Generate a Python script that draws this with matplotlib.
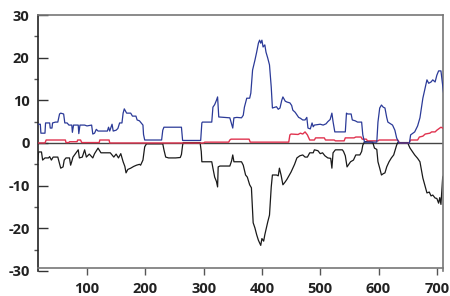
import matplotlib
matplotlib.use("Agg")
import matplotlib.pyplot as plt
from matplotlib.ticker import MultipleLocator

plt.rcParams['font.family'] = ['Open Sans', 'DejaVu Sans']
plt.rcParams['font.weight'] = 'bold'
plt.rcParams['axes.unicode_minus'] = False

# blue profile (positive side)
blue_x = [16, 20, 21, 28, 29, 36, 37, 40, 41, 46, 50, 53, 55, 60, 62, 66, 69, 74, 75, 77,
          85, 86, 88, 96, 100, 108, 110, 113, 116, 119, 135, 137, 139, 143, 145, 150, 153,
          156, 160, 162, 164, 168, 175, 178, 184, 186, 190, 193, 196, 197, 199, 228, 230,
          232, 262, 264, 295, 297, 298, 314, 316, 319, 322, 324, 326, 345, 348, 350, 352,
          357, 365, 368, 370, 372, 374, 379, 381, 384, 386, 388, 391, 394, 396, 398, 400,
          402, 405, 407, 410, 413, 416, 418, 425, 428, 431, 434, 436, 440, 443, 448, 451,
          453, 457, 460, 463, 466, 470, 474, 477, 479, 483, 486, 488, 490, 500, 505, 510,
          513, 517, 520, 522, 525, 543, 545, 547, 553, 555, 560, 564, 571, 573, 576, 597,
          599, 602, 605, 608, 611, 614, 616, 624, 628, 631, 635, 653, 655, 662, 667, 671,
          676, 680, 683, 686, 690, 693, 697, 700, 703, 707, 710, 712]
blue_y = [4.4, 4.4, 2.3, 2.3, 4.7, 4.7, 3.5, 3.5, 4.7, 4.9, 4.9, 6.8, 7.0, 6.8, 4.7, 4.7, 4.2, 4.2, 2.5, 4.2,
          4.2, 2.2, 4.2, 4.2, 4.0, 4.2, 2.1, 2.3, 3.2, 2.8, 2.8, 3.7, 2.8, 4.4, 2.8, 3.0, 3.4,
          4.7, 4.7, 7.0, 8.0, 7.0, 7.0, 6.3, 6.3, 5.4, 5.2, 4.7, 4.2, 2.0, 0.7, 0.7, 3.0,
          3.7, 3.7, 0.6, 0.6, 4.7, 4.9, 4.9, 8.4, 9.0, 10.0, 10.8, 6.1, 5.9, 4.5, 3.5, 5.9,
          6.0, 5.9, 6.5, 8.4, 9.5, 10.5, 10.5, 11.7, 17.1, 18.2, 19.4, 21.3, 23.4, 24.1, 23.4, 24.1,
          22.5, 23.0, 21.3, 19.9, 18.3, 13.1, 8.2, 8.5, 7.9, 8.2, 10.0, 10.8, 9.8, 9.6, 9.4, 8.8,
          7.7, 7.2, 6.6, 6.0, 5.8, 5.4, 5.4, 6.0, 3.5, 3.3, 4.7, 3.8, 4.2, 4.4, 4.2, 4.5,
          5.0, 5.5, 7.0, 5.0, 2.6, 2.6, 7.0, 6.8, 6.8, 5.4, 5.2, 4.9, 4.9, 1.9, 0.2, 0.2,
          4.9, 8.2, 8.9, 8.4, 8.2, 6.0, 4.9, 4.2, 3.0, 1.2, 0.0, 0.0, 1.9, 2.6, 4.0, 5.9,
          10.5, 13.0, 14.8, 14.0, 14.3, 14.8, 14.3, 15.9, 16.9, 16.9, 13.6, 11.2]

# black profile (negative side)
black_x = [16, 17, 22, 24, 28, 34, 36, 39, 42, 50, 55, 59, 61, 64, 70, 72, 74, 76, 85, 87,
           92, 96, 99, 104, 110, 113, 119, 124, 140, 146, 150, 154, 158, 162, 165, 167, 170,
           175, 180, 185, 190, 192, 196, 199, 202, 230, 232, 235, 240, 252, 260, 262, 264,
           265, 294, 296, 297, 314, 316, 319, 322, 324, 325, 328, 345, 348, 350, 352, 357,
           365, 368, 372, 375, 379, 382, 385, 388, 391, 394, 396, 398, 400, 403, 405, 408,
           410, 413, 416, 418, 425, 428, 430, 433, 436, 440, 443, 447, 450, 453, 456, 460,
           465, 470, 474, 478, 482, 488, 490, 496, 500, 504, 508, 513, 518, 520, 522, 526,
           538, 540, 543, 546, 549, 552, 557, 561, 568, 571, 573, 576, 585, 590, 593, 597,
           599, 602, 605, 608, 611, 614, 618, 622, 626, 631, 633, 650, 652, 654, 662, 667,
           671, 676, 680, 683, 687, 690, 693, 697, 700, 703, 705, 707, 710, 712]
black_y = [-4.0, -2.1, -2.1, -4.0, -3.5, -3.5, -3.2, -4.0, -3.3, -3.3, -5.9, -5.6, -4.0, -3.5, -3.5, -5.2, -4.3, -3.3, -1.6, -3.5,
           -3.3, -1.6, -3.3, -2.6, -3.5, -2.5, -1.2, -2.3, -2.3, -3.3, -2.6, -3.5, -2.5, -4.4, -5.5, -7.0, -6.2,
           -5.9, -5.5, -5.2, -5.0, -5.2, -4.0, -0.9, -0.2, -0.2, -1.6, -3.3, -3.5, -3.5, -3.4, -2.7, -0.5,
           0.1, 0.1, -2.0, -4.4, -4.4, -5.9, -8.0, -9.0, -10.3, -5.6, -5.4, -5.4, -4.2, -2.8, -4.4, -4.4,
           -4.4, -5.2, -7.5, -8.0, -9.8, -10.5, -18.7, -19.9, -21.5, -22.8, -23.4, -24.0, -22.4, -23.0, -21.5, -19.7,
           -18.5, -16.9, -10.3, -7.5, -7.5, -7.7, -5.9, -7.6, -9.8, -9.1, -8.5, -7.5, -6.8, -5.9, -5.0, -3.5,
           -3.0, -2.8, -3.3, -3.3, -2.3, -2.3, -1.6, -1.8, -2.5, -2.3, -3.0, -3.5, -3.6, -5.9, -2.3, -1.6,
           -1.6, -2.0, -3.0, -5.6, -5.0, -4.4, -4.0, -2.8, -2.8, -2.0, -0.5, 0.3, 0.3, 0.2, -1.2, -1.5,
           -4.4, -5.9, -7.5, -7.2, -7.0, -5.6, -4.4, -3.5, -2.8, -0.5, 0.1, 0.1, -0.6, -1.2, -2.8, -3.6,
           -4.4, -8.2, -10.2, -11.7, -11.5, -12.4, -12.2, -12.9, -13.0, -14.1, -12.8, -14.4, -8.0, -7.5]

# red profile (small, positive)
red_x = [16, 28, 30, 63, 64, 69, 70, 83, 84, 89, 91, 121, 122, 138, 139, 300, 302, 343, 345,
         347, 378, 380, 446, 448, 450, 462, 466, 470, 474, 478, 482, 490, 492, 507, 509, 524,
         526, 541, 543, 558, 561, 570, 572, 579, 581, 599, 601, 633, 636, 652, 655, 667, 670,
         676, 680, 688, 691, 697, 700, 704, 707, 710, 712]
red_y = [0.0, 0.0, 0.7, 0.7, 0.1, 0.1, 0.3, 0.3, 0.7, 0.7, 0.1, 0.1, 0.7, 0.7, 0.0, 0.0, 0.2, 0.2, 0.7,
         0.9, 0.9, 0.2, 0.2, 1.9, 2.1, 2.0, 2.3, 2.1, 2.6, 1.9, 0.7, 0.7, 1.2, 1.2, 0.7, 0.7,
         0.5, 0.5, 1.2, 1.2, 1.4, 1.4, 0.9, 0.9, 0.5, 0.5, 0.7, 0.7, 0.0, 0.0, 0.7, 0.7, 1.4,
         1.6, 2.1, 2.3, 2.6, 2.6, 3.0, 3.4, 3.7, 3.5, 3.3]

fig = plt.figure(figsize=(4.5, 2.96), dpi=100)
ax = fig.add_axes([0.0844, 0.0845, 0.9, 0.8648])

ax.axhline(0, color='#444444', lw=1.0, zorder=1)
ax.plot(black_x, black_y, color='#1a1a1a', lw=0.9, zorder=2)
ax.plot(red_x, red_y, color='#e0334f', lw=1.0, zorder=3)
ax.plot(blue_x, blue_y, color='#2b3a98', lw=0.9, zorder=4)

ax.set_xlim(16, 710.5)
ax.set_ylim(-30, 30)
ax.spines['bottom'].set_position(('data', -29.4))

ax.xaxis.set_major_locator(MultipleLocator(100))
ax.yaxis.set_major_locator(MultipleLocator(10))
ax.yaxis.set_minor_locator(MultipleLocator(5))

ax.tick_params(axis='y', which='major', direction='in', length=7, width=1, pad=6, color='#333333')
ax.tick_params(axis='y', which='minor', direction='out', length=3, width=1, color='#555555')
ax.tick_params(axis='x', which='major', direction='out', length=5, width=1, pad=5, color='#555555')
ax.tick_params(labelsize=10.5, labelcolor='#222222')

ax.spines['left'].set_color('#222222')
for s in ['top', 'right', 'bottom']:
    ax.spines[s].set_color('#777777')
for s in ax.spines.values():
    s.set_linewidth(1.2)

fig.savefig('out.png', dpi=100)
